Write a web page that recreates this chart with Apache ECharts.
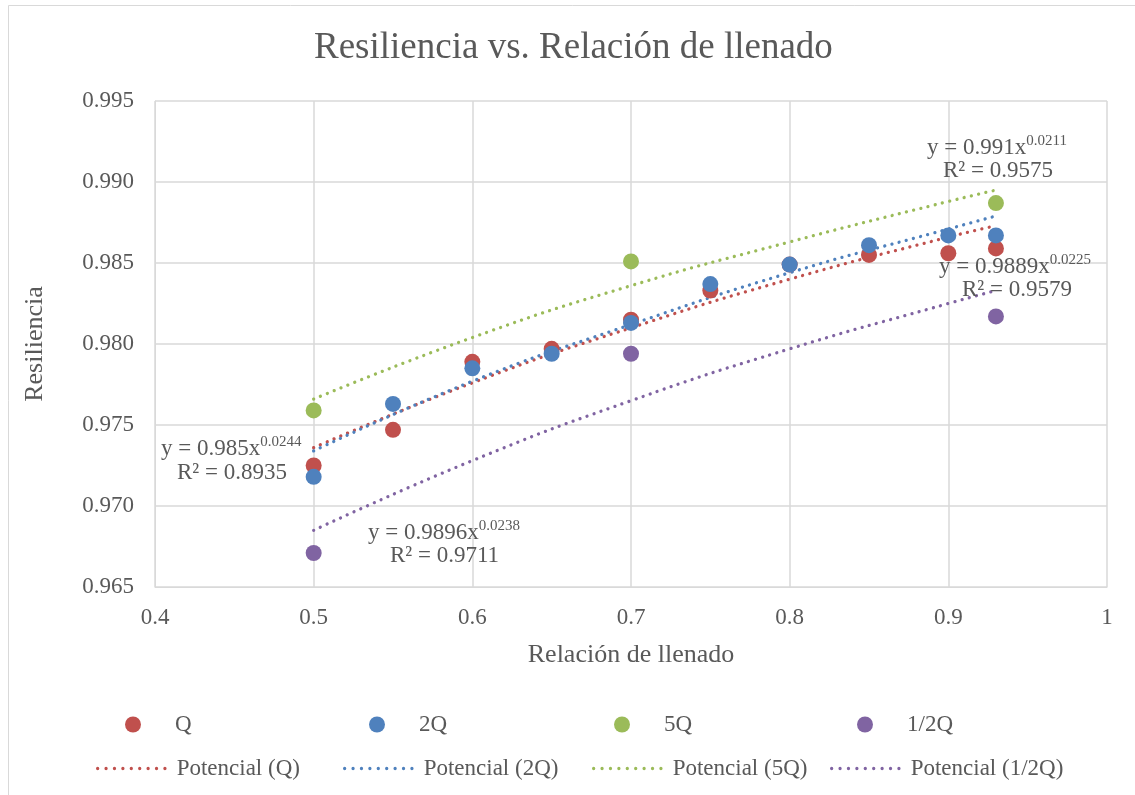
<!DOCTYPE html>
<html>
<head>
<meta charset="utf-8">
<script src="https://cdn.jsdelivr.net/npm/echarts@6/dist/echarts.min.js"></script>
<style>html,body{margin:0;padding:0;background:#fff}#c{width:1135px;height:795px}</style>
</head>
<body>
<div id="c"></div>
<script>
// ---- data ----
var xQ = [0.5, 0.55, 0.6, 0.65, 0.7, 0.75, 0.8, 0.85, 0.9, 0.93];
var valQ  = [0.9725, 0.9747, 0.9789, 0.9797, 0.9815, 0.9833, 0.9849, 0.9855, 0.9856, 0.9859];
var val2Q = [0.9718, 0.9763, 0.9785, 0.9794, 0.9813, 0.9837, 0.9849, 0.9861, 0.9867, 0.9867];
var x5Q = [0.5, 0.7, 0.93];
var val5Q = [0.9759, 0.9851, 0.9887];
var xHalfQ = [0.5, 0.7, 0.93];
var valHalfQ = [0.9671, 0.9794, 0.9817];
// trendline values
var xTrend = [0.5, 0.6, 0.7, 0.8, 0.9, 0.93];
var trendQ  = [0.9736, 0.9776, 0.9810, 0.9840, 0.9866, 0.9873];
var trend2Q = [0.9734, 0.9777, 0.9812, 0.9844, 0.9871, 0.9879];
var trend5Q = [0.9766, 0.9804, 0.9836, 0.9863, 0.9888, 0.9895];
var trendHalfQ = [0.9685, 0.9728, 0.9765, 0.9797, 0.9825, 0.9833];
var seriesNames = ['Q', '2Q', '5Q', '1/2Q'];
var trendNames = ['Potencial (Q)', 'Potencial (2Q)', 'Potencial (5Q)', 'Potencial (1/2Q)'];
var colors = ['#C0504D', '#4F81BD', '#9BBB59', '#8064A2'];
var eqTexts = [
  ['0.991', '0.0211', '0.9575'],
  ['0.9889', '0.0225', '0.9579'],
  ['0.985', '0.0244', '0.8935'],
  ['0.9896', '0.0238', '0.9711']
];

function pairs(xs, ys) { return xs.map(function (x, i) { return [x, ys[i]]; }); }

var FONT = '"Liberation Serif", "Times New Roman", serif';
var TXT = '#595959';

var chart = echarts.init(document.getElementById('c'), null, {renderer: 'canvas'});

var scatterData = [pairs(xQ, valQ), pairs(xQ, val2Q), pairs(x5Q, val5Q), pairs(xHalfQ, valHalfQ)];
var trendData = [pairs(xTrend, trendQ), pairs(xTrend, trend2Q), pairs(xTrend, trend5Q), pairs(xTrend, trendHalfQ)];

var DOT = [0.01, 7.4];
var series = [];
trendNames.forEach(function (n, i) {
  series.push({
    name: n, type: 'line', data: trendData[i], smooth: true, symbol: 'none', showSymbol: false,
    lineStyle: {color: colors[i], width: 3.3, type: DOT, cap: 'round'},
    itemStyle: {color: colors[i]}, z: 2, silent: true, animation: false
  });
});
seriesNames.forEach(function (n, i) {
  series.push({
    name: n, type: 'scatter', data: scatterData[i], symbol: 'circle', symbolSize: 16,
    itemStyle: {color: colors[i], opacity: 1}, z: 3, animation: false
  });
});

// legends
var legends = [];
var markerX = [125, 369, 614, 857];
var lineX = [96, 343, 592, 830];
seriesNames.forEach(function (n, i) {
  legends.push({
    data: [n], left: markerX[i], top: 713, padding: 0, icon: 'circle', itemWidth: 16, itemHeight: 16,
    textStyle: {fontFamily: FONT, fontSize: 23, color: TXT, padding: [0, 0, 0, 29]}, selectedMode: false
  });
});
trendNames.forEach(function (n, i) {
  legends.push({
    data: [n], left: lineX[i], top: 757, padding: 0, itemWidth: 70, itemHeight: 14,
    itemStyle: {opacity: 0},
    lineStyle: {color: colors[i], width: 3.3, type: [0.01, 8.4], cap: 'round', opacity: 1},
    textStyle: {fontFamily: FONT, fontSize: 23, color: TXT, padding: [0, 0, 0, 4]}, selectedMode: false
  });
});

function eqLabel(idx, lx, ly, rx, ry) {
  var e = eqTexts[idx];
  return [
    {type: 'text', left: lx, top: ly, style: {
      text: '{b|y = ' + e[0] + 'x}{s|' + e[1] + '}',
      rich: {b: {fontFamily: FONT, fontSize: 23, color: TXT},
             s: {fontFamily: FONT, fontSize: 15, color: TXT, verticalAlign: 'top', padding: [0, 0, 12, 0]}},
      fill: TXT, font: '23px ' + FONT
    }, z: 10},
    {type: 'text', left: rx, top: ry, style: {
      text: 'R² = ' + e[2], fill: TXT, font: '23px ' + FONT
    }, z: 10}
  ];
}

var graphics = [
  {type: 'rect', shape: {x: 8.5, y: 5.5, width: 1200, height: 900}, style: {fill: 'none', stroke: '#D9D9D9', lineWidth: 1}, silent: true, z: -1}
];
graphics = graphics.concat(eqLabel(0, 927, 134, 943, 159));
graphics = graphics.concat(eqLabel(1, 939, 253, 962, 278));
graphics = graphics.concat(eqLabel(2, 161, 435, 177, 461));
graphics = graphics.concat(eqLabel(3, 368, 519, 390, 544));

var option = {
  backgroundColor: '#fff',
  animation: false,
  title: {
    text: 'Resiliencia vs. Relación de llenado', left: 309, top: 25,
    textStyle: {fontFamily: FONT, fontSize: 37, fontWeight: 'normal', color: TXT}
  },
  grid: {left: 155, right: 28, top: 101, bottom: 208, containLabel: false},
  xAxis: {
    type: 'value', min: 0.4, max: 1, interval: 0.1,
    name: 'Relación de llenado', nameLocation: 'middle', nameGap: 55,
    nameTextStyle: {fontFamily: FONT, fontSize: 26, color: TXT},
    axisLine: {show: true, lineStyle: {color: '#D9D9D9'}},
    axisTick: {show: false},
    axisLabel: {fontFamily: FONT, fontSize: 23, color: TXT, margin: 19,
      formatter: function (v) { return String(Math.round(v * 10) / 10); }},
    splitLine: {show: true, lineStyle: {color: '#D9D9D9', width: 1.5}}
  },
  yAxis: {
    type: 'value', min: 0.965, max: 0.995, interval: 0.005,
    name: 'Resiliencia', nameLocation: 'middle', nameGap: 107, nameRotate: 90,
    nameTextStyle: {fontFamily: FONT, fontSize: 26, color: TXT},
    axisLine: {show: true, lineStyle: {color: '#D9D9D9'}},
    axisTick: {show: false},
    axisLabel: {fontFamily: FONT, fontSize: 23, color: TXT, margin: 21,
      formatter: function (v) { return v.toFixed(3); }},
    splitLine: {show: true, lineStyle: {color: '#D9D9D9', width: 1.5}}
  },
  legend: legends,
  series: series,
  graphic: graphics
};
chart.setOption(option);
</script>
</body>
</html>
